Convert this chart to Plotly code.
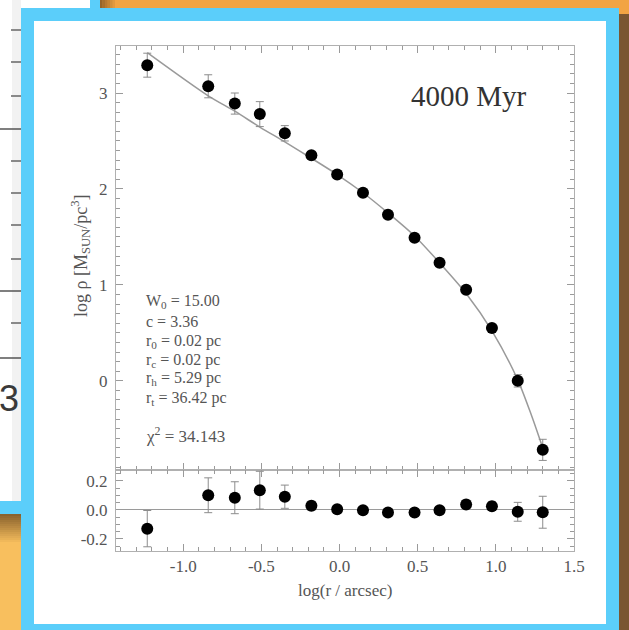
import plotly.graph_objects as go

# ---- data: King-model fit of a cluster density profile at 4000 Myr ----
log_r = [-1.23, -0.84, -0.67, -0.51, -0.35, -0.18, -0.015, 0.15, 0.31, 0.48, 0.64, 0.81, 0.975, 1.14, 1.30]
log_rho = [3.29, 3.07, 2.89, 2.78, 2.58, 2.35, 2.15, 1.96, 1.73, 1.49, 1.23, 0.95, 0.55, 0.00, -0.72]
rho_err = [0.125, 0.12, 0.11, 0.13, 0.08, 0.03, 0.02, 0.02, 0.02, 0.02, 0.02, 0.03, 0.03, 0.065, 0.11]
residual = [-0.13, 0.10, 0.083, 0.135, 0.09, 0.028, 0.003, -0.003, -0.019, -0.019, -0.003, 0.036, 0.025, -0.014, -0.017]

model_log_r = [-1.23, -0.84, -0.67, -0.51, -0.35, -0.18, -0.015, 0.15, 0.31, 0.48, 0.64, 0.81, 0.975, 1.14, 1.23, 1.30]
model_log_rho = [3.42, 2.97, 2.81, 2.645, 2.49, 2.32, 2.15, 1.96, 1.75, 1.51, 1.23, 0.91, 0.52, 0.01, -0.37, -0.70]

x_tickvals = [-1.0, -0.5, 0.0, 0.5, 1.0, 1.5]
x_ticktext = ["-1.0", "-0.5", "0.0", "0.5", "1.0", "1.5"]
y_tickvals = [0, 1, 2, 3]
y_ticktext = ["0", "1", "2", "3"]
res_tickvals = [-0.2, 0.0, 0.2]
res_ticktext = ["-0.2", "0.0", "0.2"]

fit_params = ["W<sub>0</sub> = 15.00", "c = 3.36", "r<sub>0</sub> = 0.02 pc",
              "r<sub>c</sub> = 0.02 pc", "r<sub>h</sub> = 5.29 pc", "r<sub>t</sub> = 36.42 pc"]
chi2_text = "χ<sup>2</sup> = 34.143"
age_label = "4000 Myr"

W, H = 629, 630
SERIF = "Liberation Serif, Times New Roman, serif"


def px(x):
    return x / W


def py(y):
    return 1 - y / H


fig = go.Figure()

err_style = dict(type="data", thickness=1, width=4, color="#8c8c8c")

fig.add_trace(go.Scatter(x=model_log_r, y=model_log_rho, mode="lines",
                         line=dict(color="#9a9a9a", width=1.5, shape="spline", smoothing=0.8),
                         xaxis="x", yaxis="y", showlegend=False, hoverinfo="skip"))
fig.add_trace(go.Scatter(x=log_r, y=log_rho, mode="markers",
                         marker=dict(color="black", size=12),
                         error_y=dict(array=rho_err, **err_style),
                         xaxis="x", yaxis="y", showlegend=False))
fig.add_trace(go.Scatter(x=log_r, y=residual, mode="markers",
                         marker=dict(color="black", size=12),
                         error_y=dict(array=rho_err, **err_style),
                         xaxis="x2", yaxis="y2", showlegend=False))

x_dom = [px(116), px(574)]
axis_common = dict(showline=True, linecolor="#b0b0b0", linewidth=1, mirror="allticks",
                   ticks="inside", ticklen=7, tickcolor="#9a9a9a", tickwidth=1,
                   showgrid=False, automargin=False,
                   tickfont=dict(family=SERIF, size=17, color="#555555"))
minor_common = dict(ticklen=4, ticks="inside", tickcolor="#9a9a9a")

fig.update_layout(
    width=W, height=H,
    margin=dict(l=0, r=0, t=0, b=0),
    paper_bgcolor="#F2A443",
    plot_bgcolor="rgba(0,0,0,0)",
    xaxis=dict(domain=x_dom, anchor="y", range=[-1.43, 1.5], tickvals=x_tickvals,
               showticklabels=False, zeroline=False,
               minor=dict(dtick=0.1, **minor_common), **axis_common),
    yaxis=dict(domain=[py(470), py(46)], anchor="x", range=[-0.93, 3.49],
               tickvals=y_tickvals, ticktext=y_ticktext, ticklabelstandoff=4, zeroline=False,
               minor=dict(dtick=0.1, **minor_common), **axis_common),
    xaxis2=dict(domain=x_dom, anchor="y2", range=[-1.43, 1.5], tickvals=x_tickvals,
                ticktext=x_ticktext, ticklabelstandoff=0, zeroline=False,
                minor=dict(dtick=0.1, **minor_common), **axis_common),
    yaxis2=dict(domain=[py(551), py(470)], anchor="x2", range=[-0.284, 0.274],
                tickvals=res_tickvals, ticktext=res_ticktext, ticklabelstandoff=4,
                zeroline=True, zerolinecolor="#9a9a9a", zerolinewidth=1,
                minor=dict(dtick=0.05, **minor_common), **axis_common),
)

# ---- page decoration: frames, shadows and the neighbouring panel ----
shapes = []


def rect(x0, y0, x1, y1, color, opacity=1.0):
    shapes.append(dict(type="rect", xref="paper", yref="paper", layer="below",
                       x0=px(x0), x1=px(x1), y0=py(y1), y1=py(y0),
                       fillcolor=color, opacity=opacity, line=dict(width=0)))


def seg(x0, y0, x1, y1, color, width):
    shapes.append(dict(type="line", xref="paper", yref="paper", layer="below",
                       x0=px(x0), x1=px(x1), y0=py(y0), y1=py(y1),
                       line=dict(color=color, width=width)))


# lighter backdrop lower left, with a soft shadow under the neighbouring panel
rect(0, 514, 21, 630, "#F8BF5E")
for i in range(14):
    rect(0, 514 + i * 2, 21, 516 + i * 2, "#5a3a18", 0.7 * (1 - i / 14))
# shadow to the right of the main frame
rect(619, 14, 629, 630, "#7A5631")
for i in range(6):
    rect(100 + i * 2.5, 0, 102.5 + i * 2.5, 8, "#5a3a18", 0.6 * (1 - i / 6))

# neighbouring panel on the left
rect(0, 0, 100, 514, "#5BCEFA")
rect(0, 0, 90, 501, "#FFFFFF")
rect(12, 0, 21, 501, "#EDEDED", 0.7)
for ty in [30, 62, 96, 161, 193, 225, 259, 323]:
    seg(11, ty, 21, ty, "#666666", 1.5)
for ty in [129, 291, 358]:
    seg(0, ty, 21, ty, "#555555", 1.5)

# main frame
rect(21, 8, 619, 630, "#5BCEFA")
rect(34, 21, 606, 624, "#FFFFFF")

fig.update_layout(shapes=shapes)

# ---- text ----
ann = []
ann.append(dict(text="3", x=px(21), y=py(398), xanchor="right", yanchor="middle",
                font=dict(family="Liberation Sans, Arial, sans-serif", size=36, color="#3a3a3a")))
ann.append(dict(text=age_label, x=px(469), y=py(96), xanchor="center", yanchor="middle",
                font=dict(family=SERIF, size=29, color="#333333")))
param_y = [301.6, 321.3, 341, 360, 378.5, 398]
for t, yy in zip(fit_params, param_y):
    ann.append(dict(text=t, x=px(144), y=py(yy), xanchor="left", yanchor="middle",
                    font=dict(family=SERIF, size=16, color="#555555")))
ann.append(dict(text=chi2_text, x=px(144), y=py(435), xanchor="left", yanchor="middle",
                font=dict(family=SERIF, size=17, color="#555555")))
ann.append(dict(text="log(r / arcsec)", x=px(345), y=py(590), xanchor="center", yanchor="middle",
                font=dict(family=SERIF, size=17, color="#555555")))
ann.append(dict(text="log ρ [M<sub>SUN</sub>/pc<sup>3</sup>]", x=px(80), y=py(256),
                xanchor="center", yanchor="middle", textangle=-90,
                font=dict(family=SERIF, size=18, color="#555555")))
for a in ann:
    a.update(xref="paper", yref="paper", showarrow=False)
fig.update_layout(annotations=ann)

fig.write_html("out.html")
